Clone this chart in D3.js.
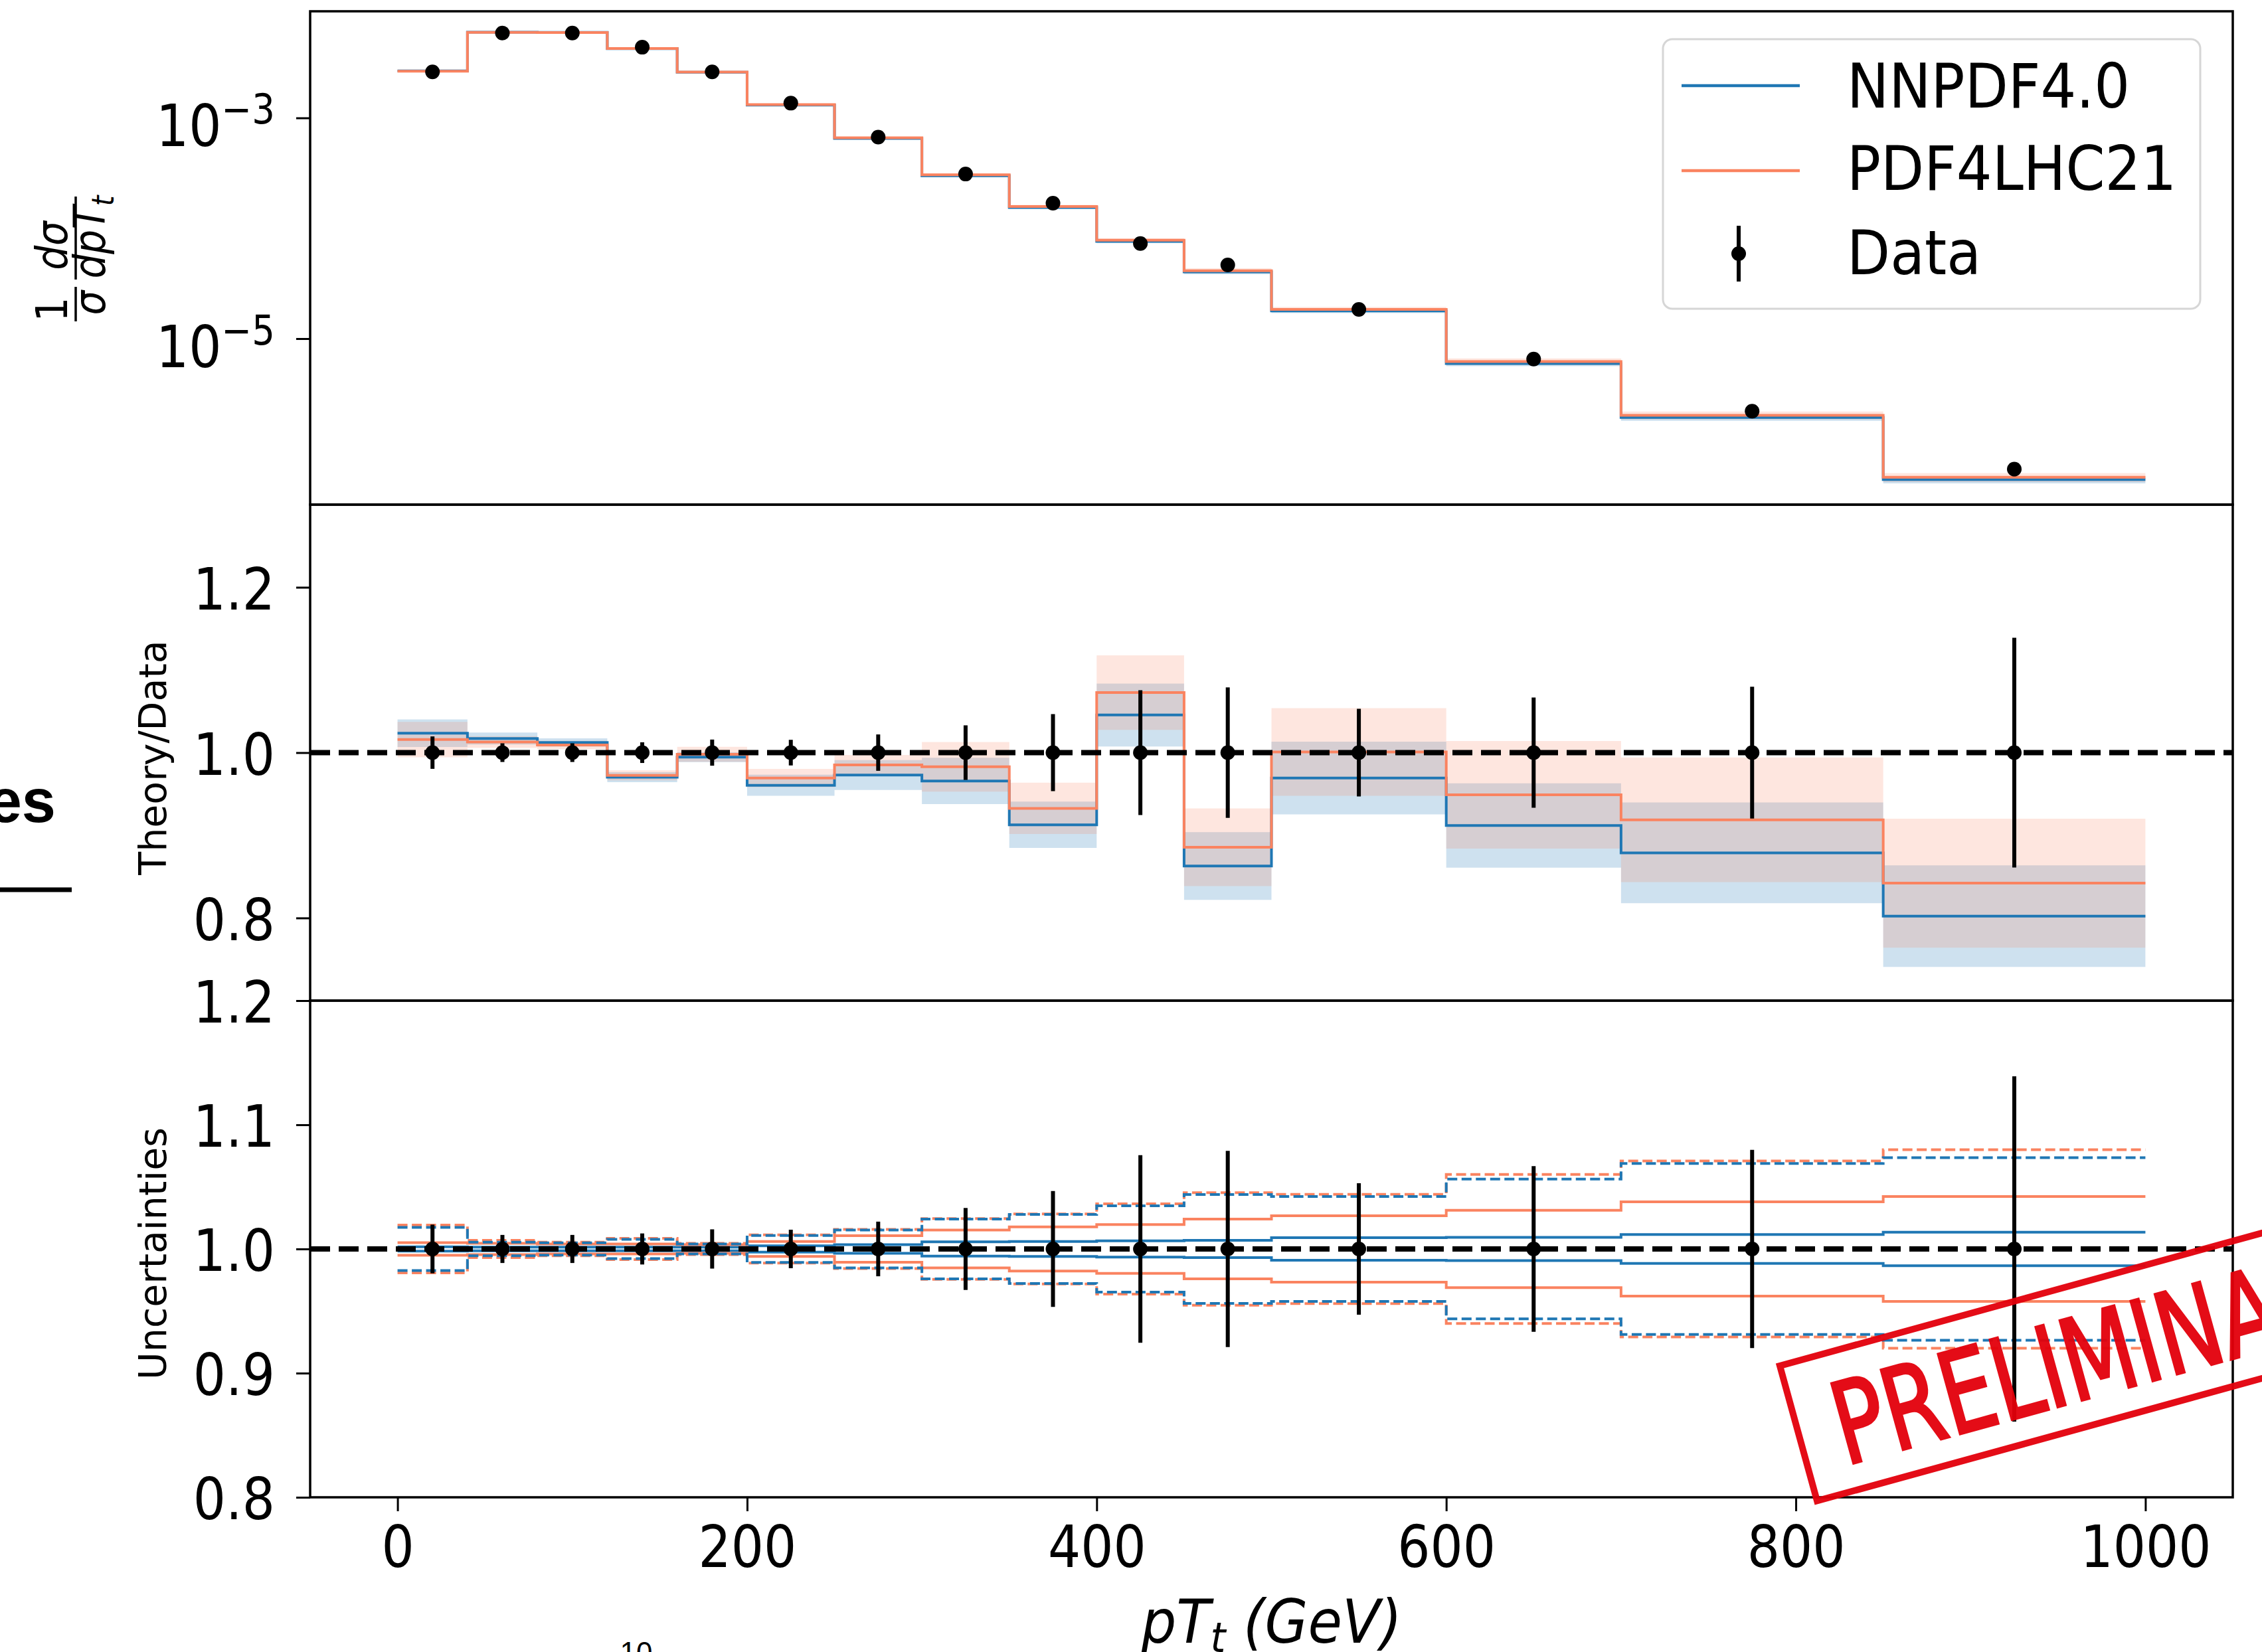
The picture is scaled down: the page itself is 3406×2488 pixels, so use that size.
<!DOCTYPE html>
<html>
<head>
<meta charset="utf-8">
<script src="https://cdn.jsdelivr.net/npm/d3@7"></script>
<style>
  body { margin: 0; background: #fff; }
  svg text { font-family: "DejaVu Sans", sans-serif; }
</style>
</head>
<body>
<svg id="chart" width="3406" height="2488"></svg>
<script>
// bins of pT_t (GeV)
var binEdges = [0, 40, 80, 120, 160, 200, 250, 300, 350, 400, 450, 500, 600, 700, 850, 1000];
var binCenters = [20, 60, 100, 140, 180, 225, 275, 325, 375, 425, 475, 550, 650, 775, 925];

// normalised cross section (data) and its relative error
var dataValues = [2.61e-3, 5.88e-3, 5.88e-3, 4.37e-3, 2.61e-3, 1.36e-3, 6.70e-4, 3.10e-4, 1.69e-4,
  7.28e-5, 4.66e-5, 1.84e-5, 6.53e-6, 2.20e-6, 6.58e-7];
var dataRelErr = [0.0196, 0.0113, 0.0113, 0.0125, 0.0158, 0.0155, 0.022, 0.033, 0.0466,
  0.0755, 0.079, 0.053, 0.0667, 0.0798, 0.139];

// theory / data
var nnpdfRatio = [1.0235, 1.017, 1.0123, 0.9703, 0.9945, 0.9605, 0.9729, 0.9657, 0.9127,
  1.0455, 0.8628, 0.9693, 0.9119, 0.8788, 0.8022];
var nnpdfBand = [0.0166, 0.0072, 0.005, 0.006, 0.006, 0.0128, 0.018, 0.028, 0.028,
  0.038, 0.041, 0.044, 0.051, 0.061, 0.0614];
var pdf4lhcRatio = [1.0158, 1.0128, 1.0093, 0.9725, 0.998, 0.9693, 0.9852, 0.9829, 0.9326,
  1.0726, 0.8856, 1.0008, 0.949, 0.9187, 0.8421];
var pdf4lhcBand = [0.0214, 0.007, 0.005, 0.006, 0.009, 0.011, 0.012, 0.03, 0.031,
  0.045, 0.047, 0.053, 0.065, 0.0754, 0.078];

// relative uncertainties (bottom panel)
var nnpdfUnc = [0.0018, 0.0015, 0.0015, 0.0015, 0.0015, 0.0025, 0.0035, 0.0058, 0.006,
  0.0066, 0.007, 0.0091, 0.0094, 0.0116, 0.0135];
var pdf4lhcUnc = [0.0051, 0.0045, 0.004, 0.004, 0.0035, 0.006, 0.0107, 0.0152, 0.0178,
  0.0196, 0.024, 0.0267, 0.0312, 0.038, 0.0423];
var nnpdfTot = [0.0174, 0.0055, 0.005, 0.0077, 0.004, 0.0108, 0.0152, 0.024, 0.0278,
  0.0348, 0.0439, 0.0422, 0.0563, 0.0688, 0.0735];
var pdf4lhcTot = [0.0193, 0.0069, 0.0055, 0.0085, 0.0045, 0.0113, 0.0158, 0.0245, 0.0282,
  0.0363, 0.0453, 0.044, 0.060, 0.0709, 0.080];

var xTicks = [0, 200, 400, 600, 800, 1000];
var topTicks = [1e-3, 1e-5];
var ratioTicks = [0.8, 1.0, 1.2];
var uncTicks = [0.8, 0.9, 1.0, 1.1, 1.2];
var legendNames = ["NNPDF4.0", "PDF4LHC21", "Data"];

var blue = "#1f77b4";
var orange = "#fa8360";
var left = 467, right = 3362;
var topY = [17, 760], midY = [760, 1507], botY = [1507, 2255];
var sx = 0.88; // tick labels are a bit narrow

var svg = d3.select("#chart");
svg.append("rect").attr("width", 3406).attr("height", 2488).attr("fill", "#fff");

var x = d3.scaleLinear().domain([-50, 1050]).range([left, right]);
var yTop = d3.scaleLog().domain([Math.pow(10, -6.504), Math.pow(10, -2.034)]).range([topY[1], topY[0]]);
var yMid = d3.scaleLinear().domain([0.7, 1.3]).range([midY[1], midY[0]]);
var yBot = d3.scaleLinear().domain([0.8, 1.2]).range([botY[1], botY[0]]);

function stepRows(vals) {
  return binEdges.map(function (e, i) { return { x: e, v: vals[Math.min(i, vals.length - 1)] }; });
}
function bandRows(lo, hi) {
  return binEdges.map(function (e, i) {
    var k = Math.min(i, lo.length - 1);
    return { x: e, lo: lo[k], hi: hi[k] };
  });
}
function stepLine(scale) {
  return d3.line().x(d => x(d.x)).y(d => scale(d.v)).curve(d3.curveStepAfter);
}
function stepArea(scale) {
  return d3.area().x(d => x(d.x)).y0(d => scale(d.lo)).y1(d => scale(d.hi)).curve(d3.curveStepAfter);
}

var plot = svg.append("g");

// ---------- top panel ----------
var nnTop = dataValues.map((d, i) => d * nnpdfRatio[i]);
var pdTop = dataValues.map((d, i) => d * pdf4lhcRatio[i]);
plot.append("path")
  .attr("d", stepArea(yTop)(bandRows(dataValues.map((d, i) => d * (nnpdfRatio[i] - nnpdfBand[i])),
    dataValues.map((d, i) => d * (nnpdfRatio[i] + nnpdfBand[i])))))
  .attr("fill", blue).attr("fill-opacity", 0.22);
plot.append("path")
  .attr("d", stepArea(yTop)(bandRows(dataValues.map((d, i) => d * (pdf4lhcRatio[i] - pdf4lhcBand[i])),
    dataValues.map((d, i) => d * (pdf4lhcRatio[i] + pdf4lhcBand[i])))))
  .attr("fill", orange).attr("fill-opacity", 0.2);
plot.append("path").attr("d", stepLine(yTop)(stepRows(nnTop)))
  .attr("fill", "none").attr("stroke", blue).attr("stroke-width", 4);
plot.append("path").attr("d", stepLine(yTop)(stepRows(pdTop)))
  .attr("fill", "none").attr("stroke", orange).attr("stroke-width", 4);

errBars(yTop, dataValues, dataRelErr);

// ---------- middle panel ----------
plot.append("path")
  .attr("d", stepArea(yMid)(bandRows(nnpdfRatio.map((r, i) => r - nnpdfBand[i]), nnpdfRatio.map((r, i) => r + nnpdfBand[i]))))
  .attr("fill", blue).attr("fill-opacity", 0.22);
plot.append("path")
  .attr("d", stepArea(yMid)(bandRows(pdf4lhcRatio.map((r, i) => r - pdf4lhcBand[i]), pdf4lhcRatio.map((r, i) => r + pdf4lhcBand[i]))))
  .attr("fill", orange).attr("fill-opacity", 0.2);
plot.append("path").attr("d", stepLine(yMid)(stepRows(nnpdfRatio)))
  .attr("fill", "none").attr("stroke", blue).attr("stroke-width", 4);
plot.append("path").attr("d", stepLine(yMid)(stepRows(pdf4lhcRatio)))
  .attr("fill", "none").attr("stroke", orange).attr("stroke-width", 4);
unityLine(yMid);
errBars(yMid, dataValues.map(() => 1), dataRelErr);

// ---------- bottom panel ----------
[[nnpdfUnc, blue, null], [pdf4lhcUnc, orange, null], [pdf4lhcTot, orange, "15,6.5"], [nnpdfTot, blue, "15,6.5"]]
  .forEach(function (s) {
    [1, -1].forEach(function (sign) {
      plot.append("path").attr("d", stepLine(yBot)(stepRows(s[0].map(u => 1 + sign * u))))
        .attr("fill", "none").attr("stroke", s[1]).attr("stroke-width", 4)
        .attr("stroke-dasharray", s[2]);
    });
  });
unityLine(yBot);
errBars(yBot, dataValues.map(() => 1), dataRelErr);

function unityLine(scale) {
  plot.append("line")
    .attr("x1", x(-50)).attr("x2", x(1050))
    .attr("y1", scale(1)).attr("y2", scale(1))
    .attr("stroke", "#000").attr("stroke-width", 8).attr("stroke-dasharray", "30,13");
}

function errBars(scale, vals, errs) {
  var g = plot.append("g");
  g.selectAll("line").data(vals).enter().append("line")
    .attr("x1", (d, i) => x(binCenters[i])).attr("x2", (d, i) => x(binCenters[i]))
    .attr("y1", (d, i) => scale(d * (1 - errs[i])))
    .attr("y2", (d, i) => scale(d * (1 + errs[i])))
    .attr("stroke", "#000").attr("stroke-width", 6);
  g.selectAll("circle").data(vals).enter().append("circle")
    .attr("cx", (d, i) => x(binCenters[i])).attr("cy", d => scale(d))
    .attr("r", 11).attr("fill", "#000");
}

// ---------- frames ----------
[topY, midY, botY].forEach(function (p) {
  svg.append("rect").attr("x", left).attr("y", p[0]).attr("width", right - left).attr("height", p[1] - p[0])
    .attr("fill", "none").attr("stroke", "#000").attr("stroke-width", 3.5);
});

// ---------- axes ----------
function yAxis(scale, ticks, fmt) {
  var g = svg.append("g").attr("transform", "translate(" + left + ",0)")
    .call(d3.axisLeft(scale).tickValues(ticks).tickSize(21).tickPadding(32).tickFormat(fmt));
  g.select(".domain").remove();
  g.selectAll(".tick line").attr("stroke", "#000").attr("stroke-width", 3);
  g.selectAll(".tick text")
    .attr("font-size", 88).attr("fill", "#000")
    .attr("dy", "0.37em").attr("x", -53 / sx).attr("transform", "scale(" + sx + ",1)");
  return g;
}

var gTop = yAxis(yTop, topTicks, () => "");
gTop.selectAll(".tick text").attr("dy", 42).each(function (d) {
  var t = d3.select(this);
  t.append("tspan").text("10");
  t.append("tspan").attr("dy", -34).attr("font-size", 62).text("\u2212" + Math.round(-Math.log10(d)));
});
yAxis(yMid, ratioTicks, d3.format(".1f"));
yAxis(yBot, uncTicks, d3.format(".1f"));

var gx = svg.append("g").attr("transform", "translate(0," + botY[1] + ")")
  .call(d3.axisBottom(x).tickValues(xTicks).tickSize(21).tickPadding(22).tickFormat(d3.format("d")));
gx.select(".domain").remove();
gx.selectAll(".tick line").attr("stroke", "#000").attr("stroke-width", 3);
gx.selectAll(".tick text")
  .attr("font-size", 88).attr("fill", "#000")
  .attr("transform", "scale(" + sx + ",1)");

// ---------- axis titles ----------
function rotText(px, py, size, italic, stretch) {
  return svg.append("text")
    .attr("transform", "translate(" + px + "," + py + ") rotate(-90) scale(" + (stretch || 1) + ",1)")
    .attr("text-anchor", "middle").attr("font-size", size)
    .attr("font-style", italic ? "italic" : "normal").attr("fill", "#000");
}
rotText(101, 466, 66, false, 0.88).text("1");
rotText(158, 456, 66, true, 0.88).text("\u03c3");
rotText(101, 370, 66, true, 0.88).text("d\u03c3");
var den = rotText(158, 357, 66, true, 0.88);
den.append("tspan").text("dpT");
den.append("tspan").attr("font-size", 46).attr("dy", 13).text("t");
svg.append("line").attr("x1", 114).attr("x2", 114).attr("y1", 432).attr("y2", 484).attr("stroke", "#000").attr("stroke-width", 3.5);
svg.append("line").attr("x1", 114).attr("x2", 114).attr("y1", 296).attr("y2", 421).attr("stroke", "#000").attr("stroke-width", 3.5);

rotText(250, 1141, 57, false).text("Theory/Data");
rotText(250, 1888, 57, false).text("Uncertainties");

var xl = svg.append("text").attr("transform", "translate(" + x(500) + ",2474) scale(0.93,1)")
  .attr("text-anchor", "middle").attr("font-size", 90).attr("font-style", "italic").attr("fill", "#000");
xl.append("tspan").text("pT");
xl.append("tspan").attr("font-size", 63).attr("dy", 14).text("t");
xl.append("tspan").attr("dy", -14).text(" (GeV)");

// ---------- legend ----------
var lg = svg.append("g");
lg.append("rect").attr("x", 2504).attr("y", 59).attr("width", 809).attr("height", 406).attr("rx", 14)
  .attr("fill", "#fff").attr("fill-opacity", 0.8).attr("stroke", "#d6d6d6").attr("stroke-width", 3);
var legY = [129, 257, 382], legBase = [162, 286, 413];
[blue, orange].forEach(function (c, i) {
  lg.append("line").attr("x1", 2532).attr("x2", 2710).attr("y1", legY[i]).attr("y2", legY[i])
    .attr("stroke", c).attr("stroke-width", 4.5);
});
lg.append("line").attr("x1", 2618).attr("x2", 2618).attr("y1", 340).attr("y2", 424)
  .attr("stroke", "#000").attr("stroke-width", 6);
lg.append("circle").attr("cx", 2618).attr("cy", legY[2]).attr("r", 11).attr("fill", "#000");
legendNames.forEach(function (n, i) {
  lg.append("text").attr("transform", "translate(2781," + legBase[i] + ") scale(0.92,1)")
    .attr("font-size", 92).attr("fill", "#000").text(n);
});

// ---------- stray bits of the slide around the figure ----------
svg.append("text").attr("x", 84).attr("y", 1238).attr("text-anchor", "end")
  .style("font-family", "'Liberation Sans', Arial, sans-serif").attr("font-weight", "bold")
  .attr("font-size", 92).attr("fill", "#000").text("es");
svg.append("line").attr("x1", 0).attr("x2", 108).attr("y1", 1340).attr("y2", 1340)
  .attr("stroke", "#000").attr("stroke-width", 7);
svg.append("text").attr("x", 958).attr("y", 2504).attr("text-anchor", "middle")
  .style("font-family", "'Liberation Sans', Arial, sans-serif").attr("font-size", 44)
  .attr("fill", "#000").text("10");

// ---------- PRELIMINARY stamp ----------
var stamp = svg.append("g").attr("transform", "translate(2680,2057) rotate(-15.4)").attr("opacity", 0.95);
stamp.append("rect").attr("x", 0).attr("y", 0).attr("width", 1000).attr("height", 211)
  .attr("fill", "none").attr("stroke", "#e3000b").attr("stroke-width", 10);
stamp.append("text").attr("transform", "translate(55,171) scale(0.75,1)")
  .attr("font-size", 171).attr("fill", "#e3000b")
  .attr("stroke", "#e3000b").attr("stroke-width", 4).text("PRELIMINARY");
</script>
</body>
</html>
